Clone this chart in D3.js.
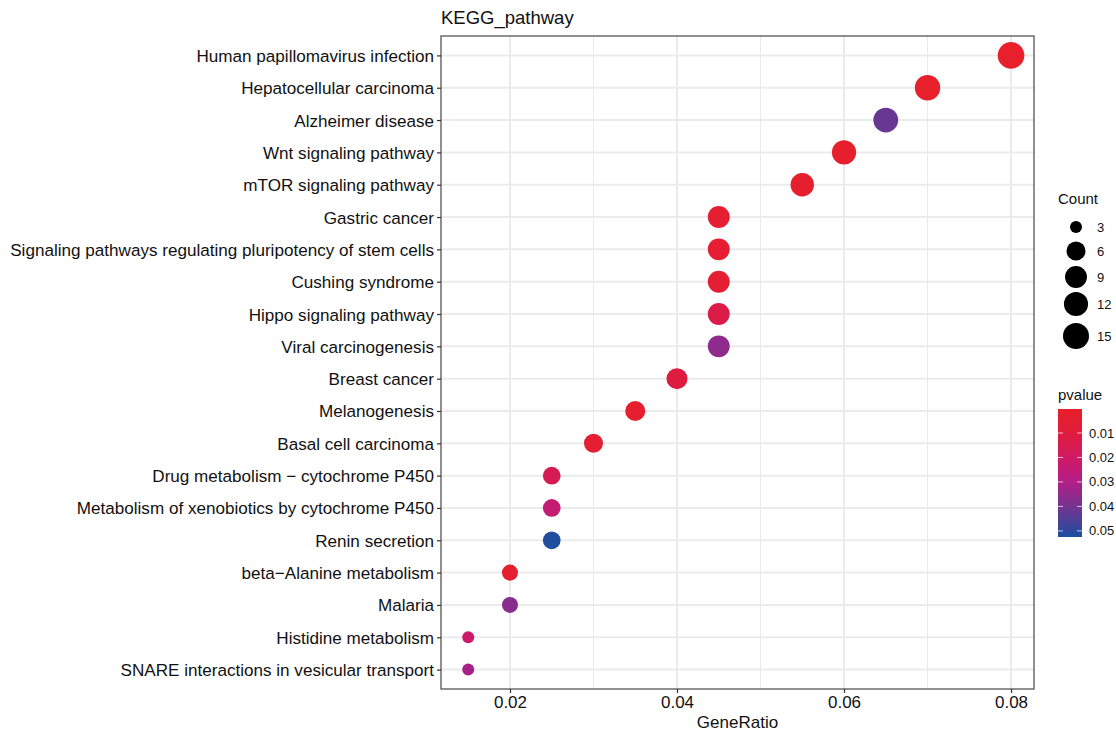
<!DOCTYPE html>
<html><head><meta charset="utf-8">
<script src="https://cdn.jsdelivr.net/npm/d3@7"></script>
<style>
body{margin:0;background:#fff}
svg{display:block}
text{font-family:"Liberation Sans",Arial,Helvetica,sans-serif}
</style>
</head><body>
<svg id="chart" width="1116" height="735"></svg>
<script>
// ---- data ----
const pathways = [
  "Human papillomavirus infection",
  "Hepatocellular carcinoma",
  "Alzheimer disease",
  "Wnt signaling pathway",
  "mTOR signaling pathway",
  "Gastric cancer",
  "Signaling pathways regulating pluripotency of stem cells",
  "Cushing syndrome",
  "Hippo signaling pathway",
  "Viral carcinogenesis",
  "Breast cancer",
  "Melanogenesis",
  "Basal cell carcinoma",
  "Drug metabolism \u2212 cytochrome P450",
  "Metabolism of xenobiotics by cytochrome P450",
  "Renin secretion",
  "beta\u2212Alanine metabolism",
  "Malaria",
  "Histidine metabolism",
  "SNARE interactions in vesicular transport"
];
const geneRatio = [0.08,0.07,0.065,0.06,0.055,0.045,0.045,0.045,0.045,0.045,0.04,0.035,0.03,0.025,0.025,0.025,0.02,0.02,0.015,0.015];
const counts    = [16,14,13,12,11,9,9,9,9,9,8,7,6,5,5,5,4,4,3,3];
const pvalues   = [0.0005,0.001,0.042,0.002,0.003,0.004,0.004,0.005,0.013,0.036,0.011,0.003,0.005,0.016,0.024,0.052,0.004,0.037,0.021,0.032];
const xTicks = [0.02,0.04,0.06,0.08];
const xMinorTicks = [0.03,0.05,0.07];
const sizeBreaks = [3,6,9,12,15];
const pvalueTicks = [0.01,0.02,0.03,0.04,0.05];
const pvalueRange = [0.0002,0.0525];
const countRange = [3,16];
// colour ramp of the pvalue scale (values -> colours)
const rampValues = [0.0002,0.01,0.02,0.03,0.04,0.0525];
const rampColors = ["#E8202A","#E01C3C","#D01A64","#B21E88","#76338F","#1B4FA0"];

// ---- layout ----
const svg = d3.select("#chart");
const P = {left:441, right:1034, top:36, bottom:689};

const x = d3.scaleLinear().domain([0.01174,0.08275]).range([P.left,P.right]);
const y = d3.scalePoint().domain(pathways).range([P.top,P.bottom]).padding(0.6);
const sizeNorm = d3.scaleLinear().domain(countRange).range([0,1]);
const radius = d3.scaleLinear().domain([0,1]).range([6,13.3]);
const r = c => radius(Math.sqrt(sizeNorm(c)));
const color = d3.scaleLinear().domain(rampValues).range(rampColors).interpolate(d3.interpolateRgb).clamp(true);

// panel background + grid
const g = svg.append("g");
g.append("rect").attr("x",P.left).attr("y",P.top).attr("width",P.right-P.left).attr("height",P.bottom-P.top).attr("fill","#fff");
g.selectAll("line.minor").data(xMinorTicks).join("line")
  .attr("x1",d=>x(d)).attr("x2",d=>x(d)).attr("y1",P.top).attr("y2",P.bottom)
  .attr("stroke","#EBEBEB").attr("stroke-width",1);
g.selectAll("line.majx").data(xTicks).join("line")
  .attr("x1",d=>x(d)).attr("x2",d=>x(d)).attr("y1",P.top).attr("y2",P.bottom)
  .attr("stroke","#EBEBEB").attr("stroke-width",2);
g.selectAll("line.majy").data(pathways).join("line")
  .attr("y1",d=>y(d)).attr("y2",d=>y(d)).attr("x1",P.left).attr("x2",P.right)
  .attr("stroke","#EBEBEB").attr("stroke-width",2);

// points
const pts = pathways.map((p,i)=>({p, gr:geneRatio[i], c:counts[i], pv:pvalues[i]}));
g.selectAll("circle.pt").data(pts).join("circle")
  .attr("cx",d=>x(d.gr)).attr("cy",d=>y(d.p)).attr("r",d=>r(d.c))
  .attr("fill",d=>color(d.pv));

// border
g.append("rect").attr("x",P.left).attr("y",P.top).attr("width",P.right-P.left).attr("height",P.bottom-P.top)
  .attr("fill","none").attr("stroke","#555").attr("stroke-width",1.3);

// axes
const yAx = svg.append("g").attr("transform",`translate(${P.left},0)`)
  .call(d3.axisLeft(y).tickSize(4).tickPadding(3));
yAx.select(".domain").remove();
yAx.selectAll("line").attr("stroke","#333").attr("stroke-width",1.2);
yAx.selectAll("text").attr("fill","#111").style("font-size","17.1px").attr("dy","0.35em");

const xAx = svg.append("g").attr("transform",`translate(0,${P.bottom})`)
  .call(d3.axisBottom(x).tickValues(xTicks).tickFormat(d3.format(".2f")).tickSize(4).tickPadding(3));
xAx.select(".domain").remove();
xAx.selectAll("line").attr("stroke","#333").attr("stroke-width",1.2);
xAx.selectAll("text").attr("fill","#111").style("font-size","17px");

// titles
svg.append("text").attr("x",P.left).attr("y",24).text("KEGG_pathway")
  .attr("fill","#111").style("font-size","18.5px");
svg.append("text").attr("x",(P.left+P.right)/2).attr("y",728).attr("text-anchor","middle")
  .text("GeneRatio").attr("fill","#111").style("font-size","17px");

// size legend
svg.append("text").attr("x",1058).attr("y",204).text("Count").attr("fill","#111").style("font-size","15px");
const legY = [227,251,277,304,336];
sizeBreaks.forEach((s,i)=>{
  svg.append("circle").attr("cx",1076).attr("cy",legY[i]).attr("r",r(s)).attr("fill","#000");
  svg.append("text").attr("x",1097).attr("y",legY[i]).attr("dy","0.35em").text(s)
    .attr("fill","#111").style("font-size","13px");
});

// colorbar legend
svg.append("text").attr("x",1058).attr("y",400).text("pvalue").attr("fill","#111").style("font-size","15px");
const cb = {x:1058, w:24, top:409, bottom:537};
const cy = d3.scaleLinear().domain(pvalueRange).range([cb.top,cb.bottom]);
const defs = svg.append("defs");
const grad = defs.append("linearGradient").attr("id","pgrad").attr("x1",0).attr("x2",0).attr("y1",0).attr("y2",1);
d3.range(0,1.0001,0.025).forEach(t=>{
  const v = pvalueRange[0]+t*(pvalueRange[1]-pvalueRange[0]);
  grad.append("stop").attr("offset",t).attr("stop-color",color(v));
});
svg.append("rect").attr("x",cb.x).attr("y",cb.top).attr("width",cb.w).attr("height",cb.bottom-cb.top).attr("fill","url(#pgrad)");
pvalueTicks.forEach(t=>{
  const yy = cy(t);
  svg.append("line").attr("x1",cb.x).attr("x2",cb.x+5).attr("y1",yy).attr("y2",yy).attr("stroke","#fff").attr("stroke-opacity",0.7);
  svg.append("line").attr("x1",cb.x+cb.w-5).attr("x2",cb.x+cb.w).attr("y1",yy).attr("y2",yy).attr("stroke","#fff").attr("stroke-opacity",0.7);
  svg.append("text").attr("x",1089).attr("y",yy).attr("dy","0.35em").text(t.toFixed(2))
    .attr("fill","#111").style("font-size","13px");
});
</script>
</body></html>
